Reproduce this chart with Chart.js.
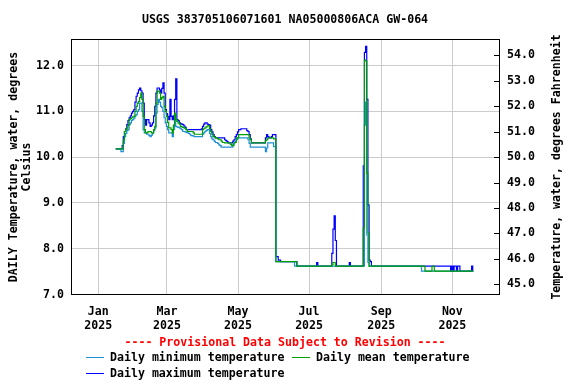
<!DOCTYPE html>
<html>
<head>
<meta charset="utf-8">
<script src="https://cdn.jsdelivr.net/npm/chart.js@4/dist/chart.umd.min.js"></script>
<style>
  html, body { margin: 0; background: #fff; }
</style>
</head>
<body>
<canvas id="chart" width="576" height="384"></canvas>
<script>
// first daily value is day 15 of 2025 (Jan 16), one value per day after that
const firstDay = 15;

const monthTicks = [0, 59, 120, 181, 243, 304];
const monthLabels = [['Jan', '2025'], ['Mar', '2025'], ['May', '2025'], ['Jul', '2025'], ['Sep', '2025'], ['Nov', '2025']];
const celsiusTicks = [7, 8, 9, 10, 11, 12];
const fahrenheitTicks = [45, 46, 47, 48, 49, 50, 51, 52, 53, 54];

const dailyMin = [
  10.18, 10.18, 10.18, 10.18, 10.18, 10.12, 10.12,
  10.30, 10.45, 10.52, 10.58, 10.60, 10.71, 10.75, 10.80, 10.82, 10.85, 10.90, 10.93, 11.00, 11.04, 11.18, 11.18, 11.00,
  10.60, 10.53, 10.53, 10.50, 10.50, 10.47, 10.45, 10.48, 10.52, 10.58, 10.64,
  10.96, 11.15, 11.26, 11.20, 11.11, 11.08, 11.00, 10.86, 10.75, 10.67, 10.60, 10.53, 10.53, 10.53, 10.45,
  10.60, 10.82, 10.67, 10.66, 10.65, 10.64, 10.62, 10.60, 10.56, 10.56, 10.55, 10.54, 10.53, 10.52, 10.50, 10.47,
  10.47, 10.46, 10.45, 10.45, 10.45, 10.45, 10.45, 10.45, 10.45,
  10.50, 10.53, 10.56, 10.58, 10.60, 10.60, 10.52, 10.45, 10.40, 10.38, 10.35, 10.32, 10.32, 10.30, 10.27, 10.25,
  10.22, 10.22, 10.22, 10.22, 10.22, 10.22, 10.22, 10.22, 10.22, 10.22,
  10.28, 10.31, 10.34, 10.38, 10.42, 10.42, 10.42, 10.42, 10.42, 10.42, 10.42, 10.42, 10.42, 10.38, 10.30, 10.22, 10.22,
  10.22, 10.22, 10.22, 10.22, 10.22, 10.22, 10.22, 10.22, 10.22, 10.22, 10.22,
  10.12, 10.20, 10.31, 10.31, 10.31, 10.31, 10.31, 10.23, 10.23,
  7.72, 7.72, 7.72, 7.72, 7.72, 7.72, 7.72, 7.72, 7.72, 7.72, 7.72, 7.72, 7.72, 7.72, 7.72, 7.72,
  7.62, 7.62, 7.62, 7.62, 7.62, 7.62, 7.62, 7.62, 7.62, 7.62, 7.62, 7.62, 7.62, 7.62, 7.62, 7.62, 7.62, 7.62, 7.62, 7.62,
  7.62, 7.62, 7.62, 7.62, 7.62, 7.62, 7.62, 7.62, 7.62, 7.62, 7.62, 7.62, 7.62, 7.62, 7.62, 7.62, 7.62, 7.62, 7.62, 7.62,
  7.62, 7.62, 7.62, 7.62, 7.62, 7.62, 7.62, 7.62, 7.62, 7.62, 7.62, 7.62, 7.62, 7.62, 7.62, 7.62, 7.62, 7.62, 7.62,
  7.62, 10.70, 11.20, 8.30, 7.70,
  7.62, 7.62, 7.62, 7.62, 7.62, 7.62, 7.62, 7.62, 7.62, 7.62, 7.62, 7.62, 7.62, 7.62, 7.62, 7.62, 7.62, 7.62, 7.62, 7.62,
  7.62, 7.62, 7.62, 7.62, 7.62, 7.62, 7.62, 7.62, 7.62, 7.62, 7.62, 7.62, 7.62, 7.62, 7.62, 7.62, 7.62, 7.62, 7.62, 7.62,
  7.62, 7.62, 7.62, 7.62, 7.62,
  7.51, 7.51, 7.51, 7.51, 7.51, 7.51, 7.51, 7.51, 7.51, 7.51, 7.51, 7.51, 7.51, 7.51, 7.51, 7.51, 7.51, 7.51, 7.51, 7.51,
  7.51, 7.51, 7.51, 7.51, 7.51, 7.51, 7.51, 7.51, 7.51, 7.51, 7.51, 7.51, 7.51, 7.51, 7.51, 7.51, 7.51, 7.51, 7.51, 7.51,
  7.51, 7.51, 7.51, 7.51, 7.51,
];

const dailyMean = [
  10.18, 10.18, 10.18, 10.18, 10.18, 10.18, 10.18,
  10.38, 10.56, 10.60, 10.64, 10.70, 10.82, 10.84, 10.86, 10.88, 10.89, 11.00, 11.11, 11.18, 11.22, 11.30, 11.40, 11.26,
  10.89, 10.60, 10.53, 10.53, 10.55, 10.56, 10.56, 10.53, 10.53, 10.60, 10.67,
  11.18, 11.44, 11.44, 11.40, 11.26, 11.30, 11.33, 11.11, 11.00, 10.89, 10.76, 10.64, 10.64, 10.60, 10.53,
  10.70, 10.96, 10.82, 10.78, 10.75, 10.72, 10.67, 10.66, 10.65, 10.64, 10.62, 10.60, 10.56, 10.56, 10.56, 10.56,
  10.56, 10.53, 10.50, 10.50, 10.50, 10.50, 10.50, 10.50, 10.50,
  10.60, 10.62, 10.64, 10.66, 10.68, 10.69, 10.62, 10.56, 10.50, 10.45, 10.44, 10.42, 10.42, 10.40, 10.38, 10.38,
  10.35, 10.32, 10.32, 10.31, 10.31, 10.31, 10.31, 10.31, 10.28, 10.25,
  10.25, 10.32, 10.32, 10.42, 10.42, 10.49, 10.49, 10.49, 10.49, 10.49, 10.49, 10.49, 10.49, 10.49, 10.42, 10.38, 10.31,
  10.31, 10.31, 10.31, 10.31, 10.31, 10.31, 10.31, 10.31, 10.31, 10.31, 10.31,
  10.36, 10.38, 10.42, 10.42, 10.42, 10.42, 10.42, 10.40, 10.40,
  7.72, 7.72, 7.72, 7.72, 7.72, 7.72, 7.72, 7.72, 7.72, 7.72, 7.72, 7.72, 7.72, 7.72, 7.72, 7.72, 7.72, 7.72,
  7.62, 7.62, 7.62, 7.62, 7.62, 7.62, 7.62, 7.62, 7.62, 7.62, 7.62, 7.62, 7.62, 7.62, 7.62, 7.62, 7.62, 7.62, 7.62, 7.62,
  7.62, 7.62, 7.62, 7.62, 7.62, 7.62, 7.62, 7.62, 7.62, 7.62,
  7.66, 7.70, 7.70,
  7.62, 7.62, 7.62, 7.62, 7.62, 7.62, 7.62, 7.62, 7.62, 7.62, 7.62, 7.62, 7.62, 7.62, 7.62, 7.62, 7.62, 7.62, 7.62, 7.62,
  7.62, 7.62, 7.62, 7.62,
  8.45, 12.12, 12.10, 9.65, 8.34,
  7.62, 7.62, 7.62, 7.62, 7.62, 7.62, 7.62, 7.62, 7.62, 7.62, 7.62, 7.62, 7.62, 7.62, 7.62, 7.62, 7.62, 7.62, 7.62, 7.62,
  7.62, 7.62, 7.62, 7.62, 7.62, 7.62, 7.62, 7.62, 7.62, 7.62, 7.62, 7.62, 7.62, 7.62, 7.62, 7.62, 7.62, 7.62, 7.62, 7.62,
  7.62, 7.62, 7.62, 7.62, 7.62, 7.62, 7.62, 7.62,
  7.51, 7.51, 7.51, 7.51, 7.51, 7.51,
  7.62, 7.62,
  7.51, 7.51, 7.51, 7.51, 7.51, 7.51, 7.51, 7.51, 7.51, 7.51, 7.51, 7.51, 7.51, 7.51, 7.51, 7.51, 7.51, 7.51, 7.51, 7.51,
  7.51, 7.51, 7.51, 7.51, 7.51, 7.51, 7.51, 7.51, 7.51, 7.51, 7.51, 7.51, 7.51, 7.51,
];

const dailyMax = [
  10.18, 10.18, 10.18, 10.18, 10.18, 10.18, 10.25,
  10.45, 10.56, 10.62, 10.71, 10.80, 10.86, 10.90, 10.96, 11.00, 11.04, 11.20, 11.33, 11.40, 11.47, 11.51, 11.45, 11.40,
  11.18, 10.82, 10.70, 10.82, 10.82, 10.75, 10.67, 10.70, 10.75, 10.90, 11.11,
  11.40, 11.51, 11.51, 11.47, 11.40, 11.50, 11.62, 11.40, 11.04, 10.95, 10.89, 10.82, 11.26, 10.89, 10.82,
  10.90, 11.26, 11.71, 10.82, 10.80, 10.75, 10.73, 10.72, 10.71, 10.68, 10.65, 10.60, 10.60, 10.60, 10.60, 10.60,
  10.60, 10.60, 10.60, 10.60, 10.60, 10.60, 10.60, 10.60, 10.62,
  10.67, 10.72, 10.75, 10.75, 10.72, 10.71, 10.70, 10.60, 10.55, 10.49, 10.45, 10.42, 10.42, 10.42, 10.42, 10.42,
  10.42, 10.42, 10.42, 10.38, 10.36, 10.34, 10.31, 10.31, 10.31, 10.31,
  10.35, 10.38, 10.45, 10.49, 10.55, 10.60, 10.60, 10.62, 10.62, 10.62, 10.62, 10.62, 10.58, 10.56, 10.49, 10.40, 10.31,
  10.31, 10.31, 10.31, 10.31, 10.31, 10.31, 10.31, 10.31, 10.31, 10.31, 10.31,
  10.42, 10.49, 10.45, 10.42, 10.42, 10.45, 10.49, 10.49, 10.49,
  7.83, 7.83, 7.75, 7.75,
  7.72, 7.72, 7.72, 7.72, 7.72, 7.72, 7.72, 7.72, 7.72, 7.72, 7.72, 7.72, 7.72, 7.72,
  7.62, 7.62, 7.62, 7.62, 7.62, 7.62, 7.62, 7.62, 7.62, 7.62, 7.62, 7.62, 7.62, 7.62, 7.62, 7.62, 7.62,
  7.70,
  7.62, 7.62, 7.62, 7.62, 7.62, 7.62, 7.62, 7.62, 7.62, 7.62, 7.62, 7.62,
  7.90, 8.43, 8.72, 8.18,
  7.62, 7.62, 7.62, 7.62, 7.62, 7.62, 7.62, 7.62, 7.62, 7.62, 7.62,
  7.70,
  7.62, 7.62, 7.62, 7.62, 7.62, 7.62, 7.62, 7.62, 7.62, 7.62, 7.62,
  9.81, 12.29, 12.42, 11.26, 8.96, 7.75, 7.72,
  7.62, 7.62, 7.62, 7.62, 7.62, 7.62, 7.62, 7.62, 7.62, 7.62, 7.62, 7.62, 7.62, 7.62, 7.62, 7.62, 7.62, 7.62, 7.62, 7.62,
  7.62, 7.62, 7.62, 7.62, 7.62, 7.62, 7.62, 7.62, 7.62, 7.62, 7.62, 7.62, 7.62, 7.62, 7.62, 7.62, 7.62, 7.62, 7.62, 7.62,
  7.62, 7.62, 7.62, 7.62, 7.62, 7.62, 7.62, 7.62, 7.62, 7.62, 7.62, 7.62, 7.62, 7.62, 7.62, 7.62, 7.62, 7.62, 7.62, 7.62,
  7.62, 7.62, 7.62, 7.62, 7.62, 7.62, 7.62, 7.62,
  7.51, 7.62, 7.51, 7.62, 7.62, 7.51, 7.62, 7.62, 7.51, 7.51, 7.51, 7.51, 7.51, 7.51, 7.51, 7.51, 7.51, 7.51, 7.62, 7.51,
];

const minColor = '#1f8fd6';
const meanColor = '#00a000';
const maxColor = '#0000ff';
const gridColor = '#cccccc';

const FONT_FAMILY = '"DejaVu Sans Mono", monospace';
const font = { family: FONT_FAMILY, size: 11.6, weight: 'bold' };

// x runs in days since Jan 1 2025
const xMin = -23.4;
const xMax = 344.9;
const yMin = 6.99;
const yMax = 12.58;

const cToF = (c) => c * 1.8 + 32;
const toSeries = (values) => values.map((v, i) => ({ x: firstDay + i, y: v }));

const lineStyle = {
  borderWidth: 1.2,
  pointRadius: 0,
  stepped: 'middle',
  fill: false,
  yAxisID: 'y',
};

const decorations = {
  id: 'decorations',
  afterDraw(chart) {
    const { ctx, chartArea: a } = chart;
    const fScale = chart.scales.yF;
    ctx.save();

    // plot frame
    ctx.strokeStyle = '#000';
    ctx.lineWidth = 1;
    ctx.strokeRect(a.left + 0.5, a.top + 0.5, a.right - a.left - 1, a.bottom - a.top - 1);

    // inward tick marks for the Fahrenheit axis
    ctx.beginPath();
    fahrenheitTicks.forEach((f) => {
      const y = Math.round(fScale.getPixelForValue(f)) + 0.5;
      ctx.moveTo(a.right - 6, y);
      ctx.lineTo(a.right, y);
    });
    ctx.stroke();

    ctx.font = `bold 11.6px ${FONT_FAMILY}`;
    ctx.fillStyle = '#000';
    ctx.textAlign = 'center';
    ctx.textBaseline = 'middle';
    ctx.fillText('USGS 383705106071601 NA05000806ACA GW-064', 285, 20);

    const midY = (a.top + a.bottom) / 2;
    ctx.save();
    ctx.translate(14, midY);
    ctx.rotate(-Math.PI / 2);
    ctx.fillText('DAILY Temperature, water, degrees', 0, 0);
    ctx.fillText('Celsius', 0, 13);
    ctx.restore();

    ctx.save();
    ctx.translate(557, midY);
    ctx.rotate(-Math.PI / 2);
    ctx.fillText('Temperature, water, degrees Fahrenheit', 0, 0);
    ctx.restore();

    ctx.fillStyle = '#ff0000';
    ctx.fillText('---- Provisional Data Subject to Revision ----', 285, 343);

    // legend
    const legendRows = [
      { color: minColor, text: 'Daily minimum temperature', x: 86, y: 357 },
      { color: meanColor, text: 'Daily mean temperature', x: 292, y: 357 },
      { color: maxColor, text: 'Daily maximum temperature', x: 86, y: 373 },
    ];
    ctx.textAlign = 'left';
    legendRows.forEach((row) => {
      ctx.fillStyle = row.color;
      ctx.fillRect(row.x, row.y, 18, 1);
      ctx.fillStyle = '#000';
      ctx.fillText(row.text, row.x + 24, row.y + 1);
    });

    ctx.restore();
  },
};

new Chart(document.getElementById('chart'), {
  type: 'line',
  data: {
    datasets: [
      { label: 'Daily maximum temperature', data: toSeries(dailyMax), borderColor: maxColor, order: 2, ...lineStyle },
      { label: 'Daily minimum temperature', data: toSeries(dailyMin), borderColor: minColor, order: 1, ...lineStyle },
      { label: 'Daily mean temperature', data: toSeries(dailyMean), borderColor: meanColor, order: 0, ...lineStyle },
    ],
  },
  options: {
    responsive: false,
    animation: false,
    devicePixelRatio: 1,
    layout: { padding: { top: 39 } },
    plugins: {
      legend: { display: false },
      tooltip: { enabled: false },
    },
    scales: {
      x: {
        type: 'linear',
        min: xMin,
        max: xMax,
        afterBuildTicks: (scale) => {
          scale.ticks = monthTicks.map((value) => ({ value }));
        },
        afterFit: (scale) => {
          scale.height = 89;
        },
        grid: { color: gridColor, drawTicks: false },
        border: { display: false },
        ticks: {
          font,
          color: '#000',
          padding: 10,
          maxRotation: 0,
          autoSkip: false,
          callback: (value, index) => monthLabels[index],
        },
      },
      y: {
        position: 'left',
        min: yMin,
        max: yMax,
        afterBuildTicks: (scale) => {
          scale.ticks = celsiusTicks.map((value) => ({ value }));
        },
        afterFit: (scale) => {
          scale.width = 71;
        },
        grid: { color: gridColor, drawTicks: false },
        border: { display: false },
        ticks: {
          font,
          color: '#000',
          padding: 7,
          callback: (value) => value.toFixed(1),
        },
      },
      yF: {
        position: 'right',
        min: cToF(yMin),
        max: cToF(yMax),
        afterBuildTicks: (scale) => {
          scale.ticks = fahrenheitTicks.map((value) => ({ value }));
        },
        afterFit: (scale) => {
          scale.width = 76;
        },
        grid: { drawOnChartArea: false, drawTicks: false },
        border: { display: false },
        ticks: {
          font,
          color: '#000',
          padding: 7,
          callback: (value) => value.toFixed(1),
        },
      },
    },
  },
  plugins: [decorations],
});
</script>
</body>
</html>
